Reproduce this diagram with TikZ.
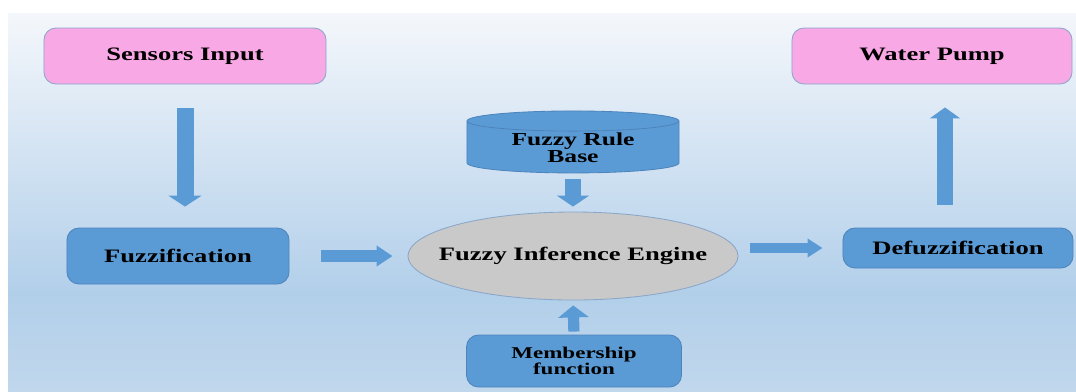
\documentclass[tikz,border=0pt]{standalone}
\usepackage{fontspec}
\newfontfamily\boxfont[FakeStretch=1.4]{Liberation Serif}
\usepackage{tikz}
\usetikzlibrary{shapes,arrows.meta,calc}

\definecolor{boxblue}{HTML}{5B9BD5}
\definecolor{boxpink}{HTML}{F9A8E6}
\definecolor{edgeblue}{HTML}{8AA6C8}
\definecolor{darkedge}{HTML}{4D84BC}
\definecolor{enginegray}{HTML}{C9C9C9}
\definecolor{bgtop}{HTML}{F4F7FB}
\definecolor{bgmid}{HTML}{B2CFEA}
\definecolor{bgbot}{HTML}{C0D7EC}

\pgfdeclareverticalshading{bgshade}{100bp}{color(0bp)=(bgbot); color(25bp)=(bgbot); color(38bp)=(bgmid); color(75bp)=(bgtop); color(100bp)=(bgtop)}

\tikzset{
  bigtext/.style={font=\boxfont\bfseries\fontsize{13.5}{16}\selectfont},
  smalltext/.style={font=\boxfont\bfseries\fontsize{11.7}{11.5}\selectfont},
  pinkbox/.style={draw=edgeblue, fill=boxpink, rounded corners=0.3cm, line width=0.6pt, bigtext},
  bluebox/.style={draw=darkedge, fill=boxblue, rounded corners=0.3cm, line width=0.6pt},
  fatarrow/.style n args={3}{draw=boxblue, line width=#1, -{Triangle[width=#2,length=#3]}}
}

\begin{document}
\begin{tikzpicture}
    [line join=round, x=0.025cm, y=-0.025cm]
\useasboundingbox (0,0) rectangle (1076,391);
%background
\shade[shading=bgshade] (8,13) rectangle (1076,391);

%boxes
  \node[pinkbox, minimum width=7.05cm, minimum height=1.4cm] (sensors) at (185,56) {Sensors Input};
  \node[pinkbox, minimum width=7cm, minimum height=1.4cm] (pump) at (932,56) {Water Pump};
  \node[bluebox, bigtext, minimum width=5.55cm, minimum height=1.4cm] (fuzz) at (178,256) {Fuzzification};
  \node[bluebox, bigtext, minimum width=5.75cm, minimum height=1cm] (defuzz) at (958,248) {Defuzzification};
  \node[bluebox, smalltext, align=center, minimum width=5.375cm, minimum height=1.3cm] (member) at (574,361) {Membership\\function};
  \node[cylinder, shape border rotate=90, aspect=0.16, draw=darkedge, fill=boxblue, line width=0.6pt,
        font=\boxfont\bfseries\fontsize{13}{11}\selectfont, align=center, inner sep=1pt,
        minimum width=5.3cm, minimum height=1.1cm] (rules) at (573,148) {Fuzzy Rule\\Base};
  \node[ellipse, draw=edgeblue, fill=enginegray, line width=0.6pt, inner sep=0pt,
        minimum width=8.25cm, minimum height=2.2cm,
        label={[bigtext]center:Fuzzy Inference Engine}] (engine) at (573,256) {};

%arrows
  \draw[fatarrow={0.425cm}{0.825cm}{0.275cm}, shorten <=0.6cm, shorten >=0.525cm] (sensors.south) -- (sensors.south |- fuzz.north);
  \draw[fatarrow={0.3cm}{0.5cm}{0.4cm}, shorten <=0.8cm, shorten >=0.375cm] (fuzz.east) -- (engine.west);
  \draw[fatarrow={0.4cm}{0.8cm}{0.275cm}, shorten <=0.15cm, shorten >=0.125cm] (rules.south) -- (engine.north);
  \draw[fatarrow={0.28cm}{0.75cm}{0.3cm}, shorten <=0.075cm, shorten >=0.125cm] (member.north) -- (engine.south);
  \draw[fatarrow={0.25cm}{0.45cm}{0.375cm}, shorten <=0.3cm, shorten >=0.5cm] (engine.east |- defuzz.west) -- (defuzz.west);
  \coordinate (up) at ($(defuzz.north)!0.5!(pump.south)$);
  \draw[fatarrow={0.4cm}{0.75cm}{0.275cm}, shorten <=0.575cm, shorten >=0.575cm] (up |- defuzz.north) -- (up |- pump.south);

 \end{tikzpicture}
\end{document}
